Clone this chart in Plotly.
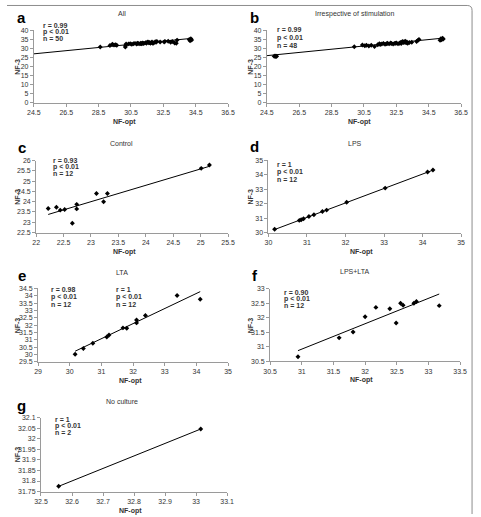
import plotly.graph_objects as go

W, H = 481, 517

# ---------------- data ----------------
a_x = [28.6, 29.2, 29.35, 29.45, 29.55, 29.62, 30.15, 30.17, 30.2, 30.35, 30.45, 30.55, 30.65, 30.75,
       30.85, 30.9, 30.95, 31.05, 31.1, 31.15, 31.2, 31.25, 31.3, 31.4, 31.45, 31.5, 31.55, 31.6, 31.65,
       31.7, 31.75, 31.8, 31.85, 31.9, 32.0, 32.05, 32.1, 32.3, 32.55, 32.6, 32.8, 32.95, 33.05, 33.2,
       33.3, 33.35, 34.1, 34.15, 34.2, 34.25]
a_y = [30.8, 31.6, 32.3, 31.9, 32.0, 31.8, 30.8, 31.6, 32.4, 32.5, 32.6, 32.3, 32.6, 32.8, 32.4, 32.9,
       32.7, 32.5, 32.9, 32.6, 33.0, 32.7, 32.9, 33.2, 32.8, 33.4, 33.6, 33.1, 33.3, 32.9, 33.2, 33.5,
       32.9, 33.0, 33.7, 33.4, 33.9, 33.6, 33.5, 33.9, 34.0, 33.4, 33.8, 33.0, 32.9, 34.6, 34.9, 34.2,
       35.3, 34.7]
a_trend_x = [24.5, 34.3]
a_trend_y = [27.0, 35.6]

b_x = [24.95, 25.0, 25.05, 25.1, 29.9, 30.4, 30.55, 30.65, 30.8, 30.95, 31.15, 31.35, 31.45, 31.5,
       31.6, 31.7, 31.8, 31.9, 31.95, 32.05, 32.15, 32.2, 32.3, 32.4, 32.5, 32.6, 32.7, 32.75, 32.8,
       32.85, 32.9, 32.95, 33.0, 33.05, 33.1, 33.15, 33.2, 33.3, 33.75, 33.85, 33.9, 35.2, 35.25, 35.3,
       35.35, 35.4, 33.45, 32.45]
b_y = [25.6, 25.8, 25.5, 25.7, 30.9, 31.9, 31.5, 31.7, 31.3, 31.8, 31.0, 32.0, 32.6, 32.2, 32.4, 32.8,
       32.3, 32.6, 32.9, 32.5, 33.0, 32.7, 32.4, 32.8, 33.0, 32.6, 32.9, 33.3, 32.7, 33.6, 33.8, 33.2,
       33.5, 34.0, 33.1, 33.6, 32.8, 33.3, 33.8, 34.6, 35.0, 34.5, 35.3, 34.8, 35.6, 35.2, 33.4, 32.9]
b_trend_x = [24.5, 35.4]
b_trend_y = [26.0, 35.7]

c_x = [22.22, 22.37, 22.44, 22.52, 22.66, 22.74, 22.74, 23.10, 23.23, 23.30, 25.01, 25.16]
c_y = [23.67, 23.73, 23.59, 23.62, 22.95, 23.87, 23.65, 24.40, 24.00, 24.40, 25.62, 25.78]
c_trend_x = [22.22, 25.16]
c_trend_y = [23.38, 25.72]

d_x = [30.16, 30.80, 30.85, 30.91, 31.05, 31.18, 31.40, 31.51, 32.03, 33.03, 34.13, 34.27]
d_y = [30.23, 30.84, 30.88, 30.95, 31.11, 31.23, 31.45, 31.55, 32.09, 33.07, 34.18, 34.32]
d_trend_x = [30.16, 34.27]
d_trend_y = [30.21, 34.31]

e_x = [30.17, 30.43, 30.73, 31.17, 31.24, 31.68, 31.80, 32.11, 32.11, 32.39, 33.39, 34.12]
e_y = [30.02, 30.40, 30.76, 31.19, 31.32, 31.81, 31.79, 32.35, 32.15, 32.66, 34.01, 33.76]
e_trend_x = [30.17, 34.12]
e_trend_y = [30.22, 34.28]

f_x = [30.94, 31.59, 31.81, 32.00, 32.17, 32.39, 32.49, 32.56, 32.60, 32.77, 32.81, 33.17]
f_y = [30.66, 31.31, 31.51, 32.04, 32.36, 32.31, 31.82, 32.50, 32.43, 32.50, 32.56, 32.42]
f_trend_x = [30.94, 33.17]
f_trend_y = [30.87, 32.82]

g_x = [32.557, 33.015]
g_y = [31.775, 32.046]
g_trend_x = [32.557, 33.015]
g_trend_y = [31.775, 32.046]

titles = ["All", "Irrespective of stimulation", "Control", "LPS", "LTA", "LPS+LTA", "No culture"]
letters = ["a", "b", "c", "d", "e", "f", "g"]
stats = [["r = 0.99", "p < 0.01", "n = 50"],
         ["r = 0.99", "p < 0.01", "n = 48"],
         ["r = 0.93", "p < 0.01", "n = 12"],
         ["r = 1", "p < 0.01", "n = 12"],
         ["r = 0.98", "p < 0.01", "n = 12"],
         ["r = 0.90", "p < 0.01", "n = 12"],
         ["r = 1", "p < 0.01", "n = 2"]]
e_stats2 = ["r = 1", "p < 0.01", "n = 12"]

x_ranges = [(24.5, 36.5, 2), (24.5, 36.5, 2), (22, 25.5, 0.5), (30, 35, 1), (29, 35, 1), (30.5, 33.5, 0.5), (32.5, 33.1, 0.1)]
y_ranges = [(0, 40, 5), (0, 40, 5), (22.5, 26, 0.5), (30, 35, 1), (29.5, 34.5, 0.5), (30.5, 33, 0.5), (31.75, 32.1, 0.05)]

# ---------------- layout (pixel positions) ----------------
boxes = [(27.7, 227.7, 26.7, 100), (267.7, 467.7, 26.7, 100),
         (30, 227.7, 158.7, 231.7), (269.3, 467.7, 158.3, 231.7),
         (32, 227.7, 288.3, 362.7), (271, 466.7, 288.7, 362.3),
         (35, 226.7, 419.3, 494.3)]
title_pos = [(118, 10), (358, 10), (118, 141), (358, 141), (118, 271.7), (358, 271), (118, 402.7)]
letter_pos = [(15, 13.3), (255, 13.3), (15, 145.7), (255, 144), (15, 275.7), (255, 275.7), (15, 406.7)]
xlab_pos = [(120.7, 119.3), (363, 119.3), (121, 251.5), (365, 251.3), (127, 381.7), (365, 381.5), (127, 514)]
ylab_x = [10.5, 250.5, 10.5, 250.5, 10.5, 250.5, 11]
stat_pos = [(35, 21.5, 6.6), (276, 26.3, 8), (45, 158.6, 6.7), (276, 162.7, 7.8),
            (43, 289.3, 7.5), (283, 292.5, 6.7), (47, 420.7, 7)]
e_stat2_x = 110

xs = [a_x, b_x, c_x, d_x, e_x, f_x, g_x]
ys = [a_y, b_y, c_y, d_y, e_y, f_y, g_y]
txs = [a_trend_x, b_trend_x, c_trend_x, d_trend_x, e_trend_x, f_trend_x, g_trend_x]
tys = [a_trend_y, b_trend_y, c_trend_y, d_trend_y, e_trend_y, f_trend_y, g_trend_y]

FONT = "Arial, Liberation Sans, sans-serif"
TXT = "#333333"
fig = go.Figure()
annotations = []
layout = {}


def ann(x, y, text, size=7, color=TXT, xanchor="center", angle=0):
    return dict(x=x / W, y=1 - y / H, xref="paper", yref="paper", text=text, showarrow=False,
                textangle=angle, font=dict(family=FONT, size=size, color=color),
                xanchor=xanchor, yanchor="middle")


for i in range(7):
    k = "" if i == 0 else str(i + 1)
    xa, ya = "x" + k, "y" + k
    x0, x1, yt, yb = boxes[i]
    xr, yr = x_ranges[i], y_ranges[i]
    fig.add_trace(go.Scatter(x=txs[i], y=tys[i], mode="lines", xaxis=xa, yaxis=ya,
                             line=dict(color="black", width=1), showlegend=False, hoverinfo="skip"))
    fig.add_trace(go.Scatter(x=xs[i], y=ys[i], mode="markers", xaxis=xa, yaxis=ya,
                             marker=dict(symbol="diamond", size=3.8, color="black"), showlegend=False))
    nx = int(round((xr[1] - xr[0]) / xr[2]))
    xt = [round(xr[0] + j * xr[2], 4) for j in range(nx + 1)]
    ny = int(round((yr[1] - yr[0]) / yr[2]))
    yt_vals = [round(yr[0] + j * yr[2], 4) for j in range(ny + 1)]
    common = dict(showgrid=False, zeroline=False, showline=True, linecolor="#9a9a9a", linewidth=1,
                  ticks="outside", ticklen=3, tickcolor="#9a9a9a", tickwidth=1,
                  tickfont=dict(family=FONT, size=7, color=TXT))
    layout["xaxis" + k] = dict(domain=[x0 / W, x1 / W], range=[xr[0], xr[1]], anchor=ya,
                               tickmode="array", tickvals=xt, ticktext=[f"{v:g}" for v in xt], **common)
    layout["yaxis" + k] = dict(domain=[1 - yb / H, 1 - yt / H], range=[yr[0], yr[1]], anchor=xa,
                               tickmode="array", tickvals=yt_vals, ticktext=[f"{v:g}" for v in yt_vals], **common)

    annotations.append(ann(*title_pos[i], titles[i]))
    annotations.append(ann(*letter_pos[i], "<b>" + letters[i] + "</b>", size=15, color="black"))
    annotations.append(ann(*xlab_pos[i], "<b>NF-opt</b>"))
    annotations.append(ann(ylab_x[i], (yt + yb) / 2, "<b>NF-3</b>", angle=-90))
    sx, sy, sd = stat_pos[i]
    for j, s in enumerate(stats[i]):
        annotations.append(ann(sx, sy + sd * j, "<b>" + s + "</b>", xanchor="left"))
    if i == 4:
        for j, s in enumerate(e_stats2):
            annotations.append(ann(e_stat2_x, sy + sd * j, "<b>" + s + "</b>", xanchor="left"))

shapes = [
    dict(type="path", xref="paper", yref="paper",
         path=f"M 0 {1 - 1.5 / H} L {474 / W} {1 - 1.5 / H} Q {479 / W} {1 - 1.5 / H} {479 / W} {1 - 6.5 / H} L {479 / W} 0",
         line=dict(color="#8c8c8c", width=1))
]

fig.update_layout(width=W, height=H, margin=dict(l=0, r=0, t=0, b=0), paper_bgcolor="white",
                  plot_bgcolor="white", annotations=annotations, shapes=shapes, showlegend=False, **layout)
fig.write_html("out.html")
